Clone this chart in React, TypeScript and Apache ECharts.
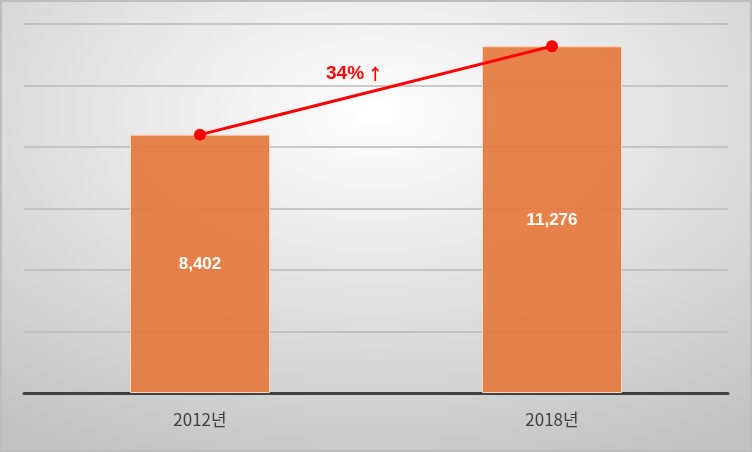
import React, { useEffect, useRef } from "react";
import * as echarts from "echarts";

const categories = ["2012년", "2018년"];
const values = [8402, 11276];
const growthText = "34%";
const growthArrow = "↑";

export default function App() {
  const ref = useRef<HTMLDivElement>(null);
  useEffect(() => {
    if (!ref.current) return;
    const chart = echarts.init(ref.current, null, { renderer: "svg" });
    chart.setOption({
      animation: false,
      backgroundColor: {
        type: "radial",
        x: 0.5,
        y: 0.25,
        r: 0.85,
        colorStops: [
          { offset: 0, color: "#ffffff" },
          { offset: 1, color: "#c2c2c2" },
        ],
      },
      grid: { left: 24, right: 24, top: 24, bottom: 59, containLabel: false },
      xAxis: {
        type: "category",
        data: categories,
        axisLine: { lineStyle: { color: "#404040", width: 3 } },
        axisTick: { show: false },
        axisLabel: {
          color: "#404040",
          fontSize: 17,
          margin: 17,
          fontFamily: "'Liberation Sans Narrow', 'Noto Sans CJK KR', sans-serif",
        },
      },
      yAxis: {
        type: "value",
        min: 0,
        max: 12000,
        interval: 2000,
        axisLabel: { show: false },
        axisLine: { show: false },
        axisTick: { show: false },
        splitLine: { lineStyle: { color: "#b8b8b8", width: 1.5 } },
      },
      graphic: [
        {
          type: "rect",
          shape: { x: 1, y: 1, width: 750, height: 450 },
          style: { fill: "none", stroke: "#bdbdbd", lineWidth: 2 },
          silent: true,
        },
        {
          type: "text",
          left: 326,
          top: 63,
          style: {
            text: "{a|" + growthText + "} {b|" + growthArrow + "}",
            rich: {
              a: {
                fill: "#ff0000",
                color: "#ff0000",
                fontSize: 19,
                fontWeight: "bold",
                fontFamily: "'Liberation Sans Narrow', 'Liberation Sans', sans-serif",
              },
              b: {
                fill: "#ff0000",
                color: "#ff0000",
                fontSize: 16,
                fontWeight: "bold",
                fontFamily: "'Noto Sans CJK KR', sans-serif",
              },
            },
          },
          z: 10,
        },
      ],
      series: [
        {
          type: "bar",
          data: values,
          barWidth: 140,
          itemStyle: {
            color: "rgba(230,122,60,0.92)",
            borderColor: "#f8d6c0",
            borderWidth: 1,
          },
          label: {
            show: true,
            position: "inside",
            color: "#ffffff",
            fontSize: 17,
            fontWeight: "bold",
            fontFamily: "'Liberation Sans', Arial, sans-serif",
            formatter: (p: any) => p.value.toLocaleString("en-US"),
          },
        },
        {
          type: "line",
          data: values,
          symbol: "circle",
          symbolSize: 12,
          lineStyle: { color: "#ff0000", width: 3 },
          itemStyle: { color: "#ff0000" },
          z: 5,
        },
      ],
    });
    return () => chart.dispose();
  }, []);
  return (
    <div
      ref={ref}
      style={{ position: "fixed", left: 0, top: 0, width: 752, height: 452 }}
    />
  );
}
